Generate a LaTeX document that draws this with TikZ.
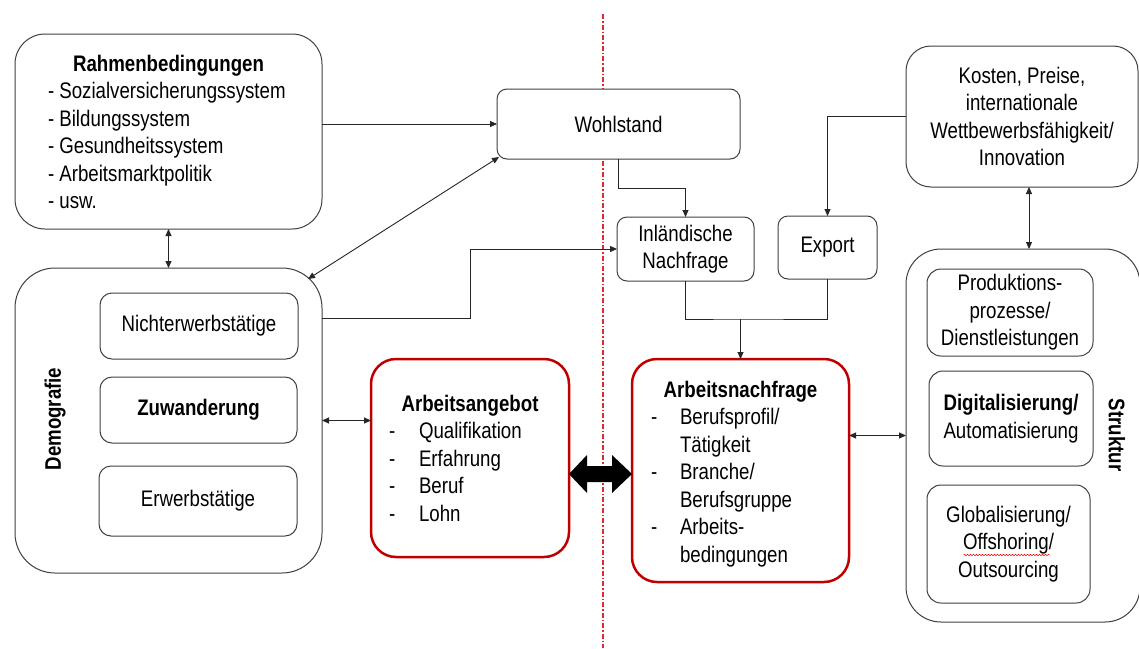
\documentclass[tikz,border=0pt]{standalone}
\usepackage{fontspec}
\setmainfont{Liberation Sans}[FakeStretch=0.83]
\usetikzlibrary{arrows.meta,calc,decorations.pathmorphing}
\definecolor{boxgray}{HTML}{404040}
\definecolor{boxred}{HTML}{C00000}
\definecolor{axisred}{HTML}{E02838}
\begin{document}
\begin{tikzpicture}[x=1pt,y=-1pt,
  every node/.style={font=\fontsize{22.5}{27.5}\selectfont, inner sep=0pt, outer sep=0pt},
  bf/.style={font=\fontsize{22.5}{27.5}\selectfont\bfseries},
  box/.style={draw=boxgray, line width=1pt, fill=white, rounded corners=#1},
  box/.default=10pt,
  redbox/.style={draw=boxred, line width=2.5pt, fill=white, rounded corners=25pt},
  conn/.style={draw=black!85, line width=0.9pt},
  arr/.style={conn, -{Triangle[length=7pt,width=6pt]}},
  darr/.style={conn, {Triangle[length=7pt,width=6pt]}-{Triangle[length=7pt,width=6pt]}},
  axis/.style={draw=axisred, line width=1.2pt, dash pattern=on 5pt off 2pt on 1.5pt off 2pt}
]
\useasboundingbox[fill=white] (0,0) rectangle (1139,648);

% dividing axis
\coordinate (axtop) at (603,14);
\coordinate (axbot) at (603,648);
\draw[axis] (axtop) -- (axbot);

% Rahmenbedingungen
\node[box=30pt, minimum width=307pt, minimum height=195pt] (rahmen) at (168.5,131.5) {};
\node[bf, anchor=base] (rtitle) at (168.5,71) {Rahmenbedingungen};
\foreach \t [count=\i] in {Sozialversicherungssystem,Bildungssystem,Gesundheitssystem,Arbeitsmarktpolitik,usw.}
  \node[anchor=base west] (ri\i) at (48,{71+27.5*\i}) {- \t};

% Wohlstand, Inlaendische Nachfrage, Export
\node[box=10pt, minimum width=243pt, minimum height=70pt] (wohl) at (618.5,124) {Wohlstand};
\node[box=10pt, align=center, minimum width=137pt, minimum height=64pt] (inl) at (685.5,249) {Inländische\\Nachfrage};
\node[box=10pt, minimum width=99pt, minimum height=63pt] (export) at (827.5,247.5) {Export};

% Kosten
\node[box=25pt, align=center, minimum width=232pt, minimum height=141pt] (kosten) at (1022,116.5) {Kosten, Preise,\\internationale\\Wettbewerbsfähigkeit/\\Innovation};

% Demografie
\node[box=40pt, minimum width=307pt, minimum height=305pt] (demo) at (168.5,420.5) {};
\node[bf, rotate=90] (demolbl) at (55,419) {Demografie};
\node[box=12pt, minimum width=198pt, minimum height=66pt] (nicht) at (199,326) {Nichterwerbstätige};
\node[box=12pt, bf, minimum width=197pt, minimum height=66pt] (zuw) at (198.5,410) {Zuwanderung};
\node[box=12pt, minimum width=198pt, minimum height=70pt] (erw) at (198,501) {Erwerbstätige};

% Struktur
\node[box=35pt, minimum width=234pt, minimum height=373pt] (struktur) at (1023,435.5) {};
\node[bf, rotate=-90] (strlbl) at (1117,435) {Struktur};
\node[box=14pt, align=center, minimum width=166pt, minimum height=87pt] (prod) at (1010,312.5) {Produktions-\\prozesse/\\Dienstleistungen};
\node[box=14pt, align=center, minimum width=164pt, minimum height=95pt] (digi) at (1011,418.5) {\textbf{Digitalisierung/}\\Automatisierung};
\node[box=14pt, align=center, minimum width=163pt, minimum height=118pt] (glob) at (1008.5,544) {Globalisierung/\\Offshoring/\\Outsourcing};
\draw[red, line width=0.5pt, decorate, decoration={snake, amplitude=0.8pt, segment length=3pt}]
  ($(glob.center)+(-45,11)$) -- ($(glob.center)+(41,11)$);

% Arbeitsangebot
\node[redbox, minimum width=198pt, minimum height=198pt] (angebot) at (470,458) {};
\node[bf, anchor=base] (atitle) at (470,411) {Arbeitsangebot};
\foreach \t [count=\i] in {Qualifikation,Erfahrung,Beruf,Lohn} {
  \node[anchor=base west] (ad\i) at (389,{411+27.6*\i}) {-};
  \node[anchor=base west] (at\i) at (419,{411+27.6*\i}) {\t};
}

% Arbeitsnachfrage
\node[redbox, minimum width=217pt, minimum height=223pt] (nachfrage) at (740.5,470.5) {};
\node[bf, anchor=base] (ntitle) at (740.5,397) {Arbeitsnachfrage};
\node[anchor=base west] (nd1) at (651,424.5) {-};
\node[anchor=base west] (nt1) at (680,424.5) {Berufsprofil/};
\node[anchor=base west] (nt2) at (680,452) {Tätigkeit};
\node[anchor=base west] (nd3) at (651,479.5) {-};
\node[anchor=base west] (nt3) at (680,479.5) {Branche/};
\node[anchor=base west] (nt4) at (680,507) {Berufsgruppe};
\node[anchor=base west] (nd5) at (651,534.5) {-};
\node[anchor=base west] (nt5) at (680,534.5) {Arbeits-};
\node[anchor=base west] (nt6) at (680,562) {bedingungen};

% connectors
\draw[arr] (rahmen.east |- wohl.west) -- (wohl.west);
\draw[darr] (rahmen.south) -- (demo.north);
\draw[darr] ($(wohl.south west)+(2,-2)$) -- ($(demo.north east)+(-14,11)$);
\draw[arr] (wohl.south) -- ++(0,29) -| (inl.north);
\draw[arr] ($(demo.north east)+(0,50)$) -- ++(148,0) |- (inl.west);
\draw[arr] (kosten.west) -| (export.north);
\draw[darr] ($(kosten.south)+(7,0)$) -- ($(struktur.north)+(6,0)$);
\coordinate (merge) at ($(nachfrage.north)+(0,-40)$);
\draw[conn] (inl.south) |- (merge) -| (export.south);
\draw[arr] (merge) -- (nachfrage.north);
\draw[darr] (demo.east) -- (demo.east -| angebot.west);
\draw[darr] (nachfrage.east |- struktur.west) -- (struktur.west);

% thick double arrow
\coordinate (dl) at ($(angebot.east)+(0,16)$);
\coordinate (dr) at (nachfrage.west |- dl);
\fill[black] (dl) -- ($(dl)+(18,-19)$) -- ($(dl)+(18,-8)$) -- ($(dr)+(-20,-8)$) -- ($(dr)+(-20,-19)$)
  -- (dr) -- ($(dr)+(-20,19)$) -- ($(dr)+(-20,8)$) -- ($(dl)+(18,8)$) -- ($(dl)+(18,19)$) -- cycle;
\end{tikzpicture}
\end{document}
